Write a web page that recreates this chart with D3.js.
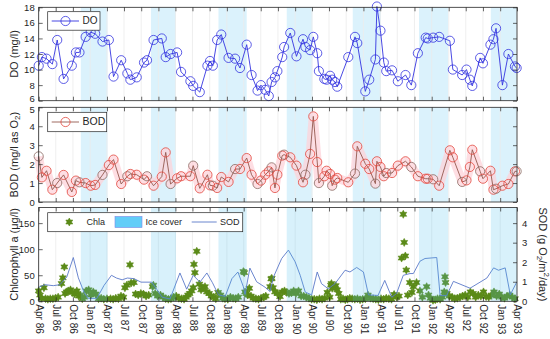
<!DOCTYPE html>
<html>
<head>
<meta charset="utf-8">
<script src="https://cdn.jsdelivr.net/npm/d3@7/dist/d3.min.js"></script>
<style>
body { margin: 0; background: #fff; }
text { font-family: "Liberation Sans", Arial, sans-serif; fill: #262626; }
</style>
</head>
<body>
<svg id="SVG_CONTAINER" width="550" height="339"></svg>
<script>
let d3 = window.d3;

// DO and BOD share sampling dates
const sampleDates = [
    "1986-04-01","1986-04-18","1986-05-13","1986-06-13","1986-07-09","1986-08-12","1986-09-25","1986-10-17","1986-11-05","1986-12-08",
    "1987-01-04","1987-01-28","1987-03-08","1987-04-11","1987-05-06","1987-06-16","1987-07-19","1987-08-04","1987-09-07","1987-10-16",
    "1987-11-01","1987-12-06","1988-01-19","1988-02-09","1988-03-06","1988-04-10","1988-05-01","1988-06-20","1988-07-05","1988-08-09",
    "1988-09-19","1988-10-03","1988-10-18","1988-11-10","1988-12-02","1989-01-10","1989-02-14","1989-03-12","1989-04-17","1989-05-13",
    "1989-06-14","1989-07-02","1989-07-25","1989-08-13","1989-08-28","1989-09-15","1989-09-28","1989-10-24","1989-11-03","1989-12-06",
    "1990-01-08","1990-02-12","1990-02-25","1990-03-22","1990-04-08","1990-04-29","1990-05-08","1990-06-06","1990-06-18","1990-07-07",
    "1990-07-18","1990-08-02","1990-08-14","1990-10-12","1990-11-17","1990-11-29","1991-01-11","1991-02-01","1991-03-06","1991-03-14",
    "1991-04-02","1991-04-20","1991-05-03","1991-06-03","1991-07-04","1991-08-14","1991-09-14","1991-10-19","1991-11-30","1991-12-11",
    "1992-01-09","1992-02-10","1992-04-07","1992-04-23","1992-06-12","1992-07-05","1992-07-23","1992-08-05","1992-09-16","1992-10-01",
    "1992-11-10","1992-11-26","1992-12-10","1993-01-13","1993-02-14","1993-03-21","1993-03-30"
];

const doValues = [
    10.5,11.6,11.4,10.7,13.8,8.8,10.5,12.2,12.2,14.2,
    14.8,14.6,13.6,13.8,9.1,11.2,9.5,8.7,9.0,10.9,
    11.2,13.8,14.0,11.6,12.0,12.2,9.7,8.5,7.9,7.1,
    10.5,11.1,10.5,13.8,14.5,11.5,11.4,10.2,13.2,9.3,
    7.3,8.0,7.4,6.6,8.4,9.0,9.8,11.6,12.9,14.7,
    11.7,13.9,12.9,12.5,14.2,12.1,9.8,8.8,8.7,9.2,
    8.7,8.4,7.8,11.6,14.2,13.4,7.2,8.7,11.3,18.1,
    15.0,10.9,9.8,9.9,8.5,9.3,8.0,12.1,14.1,14.0,
    14.1,14.2,13.7,10.0,9.3,10.0,8.7,7.9,11.5,10.8,
    13.2,13.9,15.3,8.0,12.0,10.4,10.2
];

const bodValues = [
    2.41,1.3,1.65,0.65,1.0,1.43,0.53,1.13,1.04,1.0,
    0.86,0.9,1.43,1.95,2.24,0.95,1.36,1.48,1.44,1.18,
    1.36,0.86,1.34,2.62,0.95,1.25,1.36,1.36,1.92,0.72,
    1.44,0.88,0.86,0.74,1.32,1.06,1.74,1.74,2.32,1.44,
    0.95,1.13,1.44,1.62,1.83,0.74,1.44,2.45,2.5,2.36,
    1.92,1.04,1.44,2.54,4.52,2.11,1.0,1.36,1.65,1.48,
    0.86,1.18,1.27,1.04,1.5,2.94,2.02,1.74,0.97,2.15,
    1.85,1.36,1.53,1.53,1.92,2.15,1.85,1.36,1.23,1.23,
    1.2,0.86,2.73,2.36,1.06,1.14,1.85,2.76,1.62,1.23,
    1.65,0.65,0.7,0.86,0.95,1.62,1.62
];

const sodDates = [
    "1986-04-01","1986-05-04","1986-06-18","1986-07-23","1986-08-29","1986-10-03","1986-10-30","1986-11-30","1986-12-22","1987-02-06",
    "1987-03-16","1987-04-25","1987-05-22","1987-06-21","1987-07-19","1987-08-23","1987-09-30","1987-11-26","1987-12-24","1988-01-21",
    "1988-03-03","1988-04-25","1988-05-31","1988-07-05","1988-08-10","1988-09-16","1988-10-16","1988-11-17","1988-12-23","1989-01-28",
    "1989-03-01","1989-03-30","1989-04-08","1989-05-04","1989-06-09","1989-07-24","1989-08-20","1989-09-07","1989-10-21","1989-11-26",
    "1990-01-01","1990-01-28","1990-02-24","1990-03-30","1990-04-29","1990-05-22","1990-06-27","1990-08-02","1990-09-25","1990-10-21",
    "1990-11-26","1991-01-01","1991-01-28","1991-03-20","1991-04-25","1991-06-01","1991-06-27","1991-08-02","1991-09-07","1991-09-25",
    "1991-10-30","1991-11-26","1992-01-02","1992-01-28","1992-02-15","1992-03-21","1992-04-26","1992-07-24","1992-10-22","1992-11-27",
    "1992-12-23","1993-01-28","1993-02-24","1993-03-30"
];

const sodValues = [
    0.72,0.85,0.8,0.85,1.24,2.24,1.2,0.45,0.15,0.15,
    0.81,1.33,1.19,1.1,1.19,1.16,0.98,0.98,0.6,0.21,
    0.12,1.45,0.62,1.33,0.98,1.45,0.95,0.33,0.25,1.16,
    1.5,0.75,0.35,1.7,1.0,0.72,0.5,1.24,2.19,2.62,
    2.02,1.33,0.47,0.33,1.5,0.9,0.64,0.9,1.59,1.5,
    1.73,1.5,0.33,0.3,1.07,0.21,0.4,1.33,1.42,1.42,
    2.05,2.19,2.22,2.24,0.29,0.29,1.02,0.67,1.19,1.71,
    1.59,1.71,0.33,0.98
];

const chlaDates = [
    "1986-04-01","1986-04-08","1986-04-15","1986-04-29","1986-05-08","1986-05-20","1986-06-02","1986-06-16","1986-06-30","1986-07-14",
    "1986-08-01","1986-08-08","1986-08-16","1986-08-20","1986-08-28","1986-09-08","1986-09-18","1986-09-29","1986-10-10","1986-10-22",
    "1986-11-01","1986-11-10","1986-11-20","1986-12-01","1986-12-12","1986-12-24","1987-01-05","1987-01-18","1987-02-01","1987-02-15",
    "1987-03-01","1987-03-15","1987-04-01","1987-04-20","1987-05-04","1987-05-18","1987-06-01","1987-06-15","1987-06-28","1987-07-06",
    "1987-07-16","1987-08-02","1987-08-08","1987-08-23","1987-09-01","1987-09-15","1987-09-29","1987-10-13","1987-10-27","1987-11-10",
    "1987-12-01","1987-12-05","1987-12-15","1987-12-28","1988-01-12","1988-01-26","1988-02-09","1988-02-23","1988-03-08","1988-03-22",
    "1988-04-05","1988-04-19","1988-05-03","1988-05-17","1988-05-28","1988-06-07","1988-06-16","1988-06-27","1988-07-05","1988-07-09",
    "1988-07-14","1988-07-24","1988-08-07","1988-08-16","1988-08-26","1988-09-06","1988-09-16","1988-09-28","1988-10-10","1988-10-22",
    "1988-11-03","1988-11-15","1988-11-28","1988-12-10","1988-12-22","1989-01-06","1989-01-20","1989-02-03","1989-02-17","1989-03-03",
    "1989-03-30","1989-04-04","1989-04-08","1989-04-14","1989-04-22","1989-05-01","1989-05-10","1989-05-22","1989-06-05","1989-06-19",
    "1989-07-03","1989-07-17","1989-07-28","1989-08-20","1989-08-26","1989-08-29","1989-09-05","1989-09-15","1989-09-28","1989-10-12",
    "1989-10-24","1989-11-05","1989-11-17","1989-11-29","1989-12-12","1989-12-24","1990-01-05","1990-01-19","1990-02-02","1990-02-16",
    "1990-03-02","1990-03-16","1990-03-30","1990-04-13","1990-04-27","1990-05-11","1990-05-25","1990-06-08","1990-06-22","1990-07-05",
    "1990-07-11","1990-07-14","1990-07-18","1990-08-06","1990-08-14","1990-08-22","1990-09-02","1990-09-14","1990-09-26","1990-10-08",
    "1990-10-20","1990-11-02","1990-11-16","1990-11-30","1990-12-14","1990-12-28","1991-01-11","1991-01-25","1991-02-08","1991-02-22",
    "1991-03-08","1991-03-22","1991-04-05","1991-04-19","1991-05-03","1991-05-17","1991-05-31","1991-06-14","1991-06-28","1991-07-10",
    "1991-07-24","1991-08-02","1991-08-07","1991-08-13","1991-08-18","1991-08-26","1991-09-06","1991-09-17","1991-09-25","1991-10-12",
    "1991-10-30","1991-11-12","1991-12-05","1991-12-15","1991-12-25","1992-01-08","1992-01-20","1992-02-01","1992-02-15","1992-02-28",
    "1992-03-08","1992-03-12","1992-03-15","1992-03-22","1992-04-05","1992-04-19","1992-05-03","1992-05-17","1992-05-31","1992-06-14",
    "1992-06-28","1992-07-12","1992-07-26","1992-08-09","1992-08-23","1992-09-06","1992-09-20","1992-10-04","1992-10-18","1992-11-01",
    "1992-11-15","1992-11-29","1992-12-13","1992-12-27","1993-01-10","1993-01-24","1993-02-07","1993-02-21","1993-03-07","1993-03-21"
];

const chlaValues = [
    20,12,6,26,5,4,5,5,6,8,
    34,45,66,15,18,20,22,17,14,20,
    10,12,5,8,20,22,12,18,14,5,
    6,4,5,5,4,6,5,10,8,26,
    31,70,35,36,14,12,15,14,10,12,
    28,31,15,10,12,8,5,4,5,8,
    10,6,5,4,8,12,15,20,26,71,
    55,96,33,22,26,28,18,15,10,8,
    5,17,12,6,5,4,8,6,5,8,
    57,55,18,15,12,25,10,6,5,4,
    6,8,10,28,43,44,26,18,15,9,
    18,20,17,15,16,20,15,20,10,10,
    8,6,4,4,3,5,4,6,17,8,
    31,34,25,30,22,15,4,5,3,4,
    6,5,4,5,3,4,5,12,6,5,
    4,3,5,4,6,5,4,13,8,10,
    83,167,113,87,60,12,36,17,28,36,
    20,8,28,12,6,2,3,5,4,8,
    18,47,36,15,10,8,5,6,8,10,
    12,8,18,15,8,12,10,18,9,8,
    12,18,10,14,8,6,10,12,8,5
];

const iceStart = ["1986-11-12","1987-11-22","1988-11-17","1989-11-17","1990-11-05","1991-10-25","1992-11-12"];
const iceEnd   = ["1987-04-04","1988-04-04","1989-04-17","1990-04-03","1991-04-04","1992-03-29","1993-04-01"];

const doTicks   = [6, 8, 10, 12, 14, 16, 18];
const bodTicks  = [0, 1, 2, 3, 4, 5];
const chlaTicks = [0, 50, 100, 150];
const sodTicks  = [0, 1, 2, 3, 4];

const width = 550, height = 339;
const X0 = 38.7, X1 = 517;
const P1 = [7.3, 100.7], P2 = [107.3, 202], P3 = [207.5, 301.3];

const COLORS = {
    DO: "#3434e0",
    BOD: "#e2473d",
    BODLINE: "#94594f",
    BODBAND: "#fdd3da",
    CHLA: "#5a8a18",
    SOD: "#5a78c8",
    ICE: "#4dbeee",
    AXIS: "#262626",
    GRID: "#ebebeb"
};

const parse = d3.timeParse("%Y-%m-%d");
const svg = d3.select("#SVG_CONTAINER");

const xScale = d3.scaleTime()
    .domain([parse("1986-04-01"), parse("1993-04-01")])
    .range([X0, X1]);
const quarterTicks = d3.timeMonth.range(parse("1986-04-01"), parse("1993-04-02"), 3);

const yDO = d3.scaleLinear().domain([6, 18]).range([P1[1], P1[0]]);
const yBOD = d3.scaleLinear().domain([0, 5]).range([P2[1], P2[0]]);
const yChla = d3.scaleLinear().domain([0, 180]).range([P3[1], P3[0]]);
const ySOD = d3.scaleLinear().domain([0, 4.8]).range([P3[1], P3[0]]);

const sample = sampleDates.map(function (d, i) {
    return { date: parse(d), DO: doValues[i], BOD: bodValues[i] };
});
const sod = sodDates.map((d, i) => ({ date: parse(d), v: sodValues[i] }));
const chla = chlaDates.map((d, i) => ({ date: parse(d), v: chlaValues[i] }));
const ice = iceStart.map((d, i) => ({ s: parse(d), e: parse(iceEnd[i]) }));

// six-pointed star marker like matlab 'h'
const hexagram = {
    draw: function (ctx, size) {
        let r = Math.sqrt(size), ri = r * 0.55;
        for (let i = 0; i < 12; i++) {
            let a = Math.PI / 6 * i - Math.PI / 2;
            let rr = (i % 2) ? ri : r;
            if (i === 0) ctx.moveTo(rr * Math.cos(a), rr * Math.sin(a));
            else ctx.lineTo(rr * Math.cos(a), rr * Math.sin(a));
        }
        ctx.closePath();
    }
};

function drawBands(g, p, opacity) {
    g.append("g").selectAll("rect")
        .data(ice)
        .enter()
        .append("rect")
            .attr("x", d => xScale(d.s))
            .attr("y", p[0])
            .attr("width", d => xScale(d.e) - xScale(d.s))
            .attr("height", p[1] - p[0])
            .attr("fill", COLORS.ICE)
            .attr("opacity", opacity);
}

function drawGrid(g, p) {
    g.append("g").selectAll("line")
        .data(quarterTicks)
        .enter()
        .append("line")
            .attr("x1", d => xScale(d)).attr("x2", d => xScale(d))
            .attr("y1", p[0]).attr("y2", p[1])
            .attr("stroke", COLORS.GRID)
            .attr("stroke-width", 0.8);
}

function drawFrame(g, p, yScale, ticks, rightScale, rightTicks) {
    // x ticks top and bottom (inward)
    g.append("g")
        .attr("transform", "translate(0," + p[1] + ")")
        .call(d3.axisBottom(xScale).tickValues(quarterTicks).tickSize(-4).tickFormat(""))
        .call(a => a.select(".domain").remove());
    g.append("g")
        .attr("transform", "translate(0," + p[0] + ")")
        .call(d3.axisTop(xScale).tickValues(quarterTicks).tickSize(-4).tickFormat(""))
        .call(a => a.select(".domain").remove());

    // left y axis
    g.append("g")
        .attr("class", "yleft")
        .attr("transform", "translate(" + X0 + ",0)")
        .call(d3.axisLeft(yScale).tickValues(ticks).tickSize(-4).tickPadding(4).tickFormat(d3.format("d")))
        .call(a => a.select(".domain").remove())
        .call(a => a.selectAll("text").style("font-size", "9.5px").attr("fill", COLORS.AXIS));

    // right y axis
    let right = g.append("g")
        .attr("transform", "translate(" + X1 + ",0)");
    if (rightScale) {
        right.call(d3.axisRight(rightScale).tickValues(rightTicks).tickSize(-4).tickPadding(5).tickFormat(d3.format("d")))
            .call(a => a.selectAll("text").style("font-size", "9.5px").attr("fill", COLORS.AXIS));
    } else {
        right.call(d3.axisRight(yScale).tickValues(ticks).tickSize(-4).tickFormat(""));
    }
    right.select(".domain").remove();

    g.selectAll(".tick line").attr("stroke", COLORS.AXIS).attr("stroke-width", 0.7);

    g.append("rect")
        .attr("x", X0).attr("y", p[0])
        .attr("width", X1 - X0).attr("height", p[1] - p[0])
        .attr("fill", "none")
        .attr("stroke", COLORS.AXIS)
        .attr("stroke-width", 0.8);
}

//---------- panel 1 : DO
let g1 = svg.append("g").attr("class", "do");
drawBands(g1, P1, 0.2);
drawGrid(g1, P1);

g1.append("path")
    .datum(sample)
    .attr("fill", "none")
    .attr("stroke", COLORS.DO)
    .attr("stroke-width", 0.9)
    .attr("d", d3.line().x(d => xScale(d.date)).y(d => yDO(d.DO)));

g1.selectAll("circle")
    .data(sample)
    .enter()
    .append("circle")
        .attr("cx", d => xScale(d.date))
        .attr("cy", d => yDO(d.DO))
        .attr("r", 4.6)
        .attr("fill", "none")
        .attr("stroke", COLORS.DO)
        .attr("stroke-width", 0.8);

drawFrame(g1, P1, yDO, doTicks);
// keep the bottom "6" clear of the "5" below
g1.selectAll(".yleft text").filter(d => d === 6).attr("dy", "0.1em");

//---------- panel 2 : BOD
let g2 = svg.append("g").attr("class", "bod");
drawBands(g2, P2, 0.2);
drawGrid(g2, P2);

g2.append("path")
    .datum(sample)
    .attr("fill", "none")
    .attr("stroke", COLORS.BODBAND)
    .attr("stroke-width", 9)
    .attr("stroke-linejoin", "round")
    .attr("opacity", 0.75)
    .attr("d", d3.line().x(d => xScale(d.date)).y(d => yBOD(d.BOD)));

g2.append("path")
    .datum(sample)
    .attr("fill", "none")
    .attr("stroke", COLORS.BODLINE)
    .attr("stroke-width", 0.9)
    .attr("d", d3.line().x(d => xScale(d.date)).y(d => yBOD(d.BOD)));

g2.selectAll("circle")
    .data(sample)
    .enter()
    .append("circle")
        .attr("cx", d => xScale(d.date))
        .attr("cy", d => yBOD(d.BOD))
        .attr("r", 4.6)
        .attr("fill", "none")
        .attr("stroke", (d, i) => (i % 4 === 0) ? "#8a6a62" : COLORS.BOD)
        .attr("stroke-width", 0.8);

drawFrame(g2, P2, yBOD, bodTicks);
g2.selectAll(".yleft text").filter(d => d === 5).attr("dy", "0.55em");

//---------- panel 3 : Chla, ice cover, SOD
let g3 = svg.append("g").attr("class", "chla");
drawGrid(g3, P3);

g3.append("g").selectAll("path")
    .data(chla)
    .enter()
    .append("path")
        .attr("transform", d => "translate(" + xScale(d.date) + "," + yChla(d.v) + ")")
        .attr("d", d3.symbol().type(hexagram).size(16))
        .attr("fill", COLORS.CHLA)
        .attr("stroke", COLORS.CHLA)
        .attr("stroke-width", 0.6);

g3.append("path")
    .datum(sod)
    .attr("fill", "none")
    .attr("stroke", COLORS.SOD)
    .attr("stroke-width", 0.9)
    .attr("d", d3.line().x(d => xScale(d.date)).y(d => ySOD(d.v)));

drawBands(g3, P3, 0.22);
drawFrame(g3, P3, yChla, chlaTicks, ySOD, sodTicks);

// x tick labels
svg.append("g").selectAll("text")
    .data(quarterTicks)
    .enter()
    .append("text")
        .attr("transform", d => "translate(" + xScale(d) + "," + (P3[1] + 3) + ")rotate(90)")
        .attr("dominant-baseline", "middle")
        .style("font-size", "10px")
        .text(d3.timeFormat("%b %y"));

//---------- axis labels
svg.append("text")
    .attr("transform", "translate(15," + ((P1[0] + P1[1]) / 2) + ")rotate(-90)")
    .attr("text-anchor", "middle")
    .attr("dominant-baseline", "middle")
    .style("font-size", "11px")
    .text("DO (mg/l)");

let bodLabel = svg.append("text")
    .attr("transform", "translate(15," + ((P2[0] + P2[1]) / 2) + ")rotate(-90)")
    .attr("text-anchor", "middle")
    .attr("dominant-baseline", "middle")
    .style("font-size", "11px");
bodLabel.append("tspan").text("BOD (mg/l as O");
bodLabel.append("tspan").attr("dy", 3).style("font-size", "8px").text("2");
bodLabel.append("tspan").attr("dy", -3).text(")");

svg.append("text")
    .attr("transform", "translate(15," + ((P3[0] + P3[1]) / 2) + ")rotate(-90)")
    .attr("text-anchor", "middle")
    .attr("dominant-baseline", "middle")
    .style("font-size", "11px")
    .text("Chlorophyll a (\u03bcg/l)");

let sodLabel = svg.append("text")
    .attr("transform", "translate(542," + ((P3[0] + P3[1]) / 2) + ")rotate(90)")
    .attr("text-anchor", "middle")
    .attr("dominant-baseline", "middle")
    .style("font-size", "11px");
sodLabel.append("tspan").text("SOD (g O");
sodLabel.append("tspan").attr("dy", 3).style("font-size", "8px").text("2");
sodLabel.append("tspan").attr("dy", -3).text("/m");
sodLabel.append("tspan").attr("dy", -4).style("font-size", "8px").text("2");
sodLabel.append("tspan").attr("dy", 4).text("/day)");

//---------- legends
function legendBox(x, y, w, h) {
    return svg.append("rect")
        .attr("x", x).attr("y", y)
        .attr("width", w).attr("height", h)
        .attr("fill", "#fff")
        .attr("stroke", COLORS.AXIS)
        .attr("stroke-width", 0.7);
}

// DO legend
legendBox(47.7, 11.7, 52.3, 18.5);
svg.append("line").attr("x1", 51.7).attr("x2", 79).attr("y1", 21).attr("y2", 21)
    .attr("stroke", COLORS.DO).attr("stroke-width", 0.9);
svg.append("circle").attr("cx", 65.5).attr("cy", 21).attr("r", 4.6)
    .attr("fill", "none").attr("stroke", COLORS.DO).attr("stroke-width", 0.8);
svg.append("text").attr("x", 82.5).attr("y", 21.3).attr("dominant-baseline", "middle")
    .style("font-size", "10px").text("DO");

// BOD legend
legendBox(47.7, 112.3, 59, 19.4);
svg.append("line").attr("x1", 51.7).attr("x2", 79).attr("y1", 122).attr("y2", 122)
    .attr("stroke", COLORS.BODLINE).attr("stroke-width", 0.9);
svg.append("circle").attr("cx", 65.5).attr("cy", 122).attr("r", 4.6)
    .attr("fill", "none").attr("stroke", COLORS.BOD).attr("stroke-width", 0.8);
svg.append("text").attr("x", 82.5).attr("y", 122.3).attr("dominant-baseline", "middle")
    .style("font-size", "10.5px").text("BOD");

// Chla / Ice cover / SOD legend
legendBox(47.7, 212.7, 195, 19);
svg.append("path")
    .attr("transform", "translate(69.3,222)")
    .attr("d", d3.symbol().type(hexagram).size(16))
    .attr("fill", COLORS.CHLA).attr("stroke", COLORS.CHLA).attr("stroke-width", 0.6);
svg.append("text").attr("x", 86.5).attr("y", 222.3).attr("dominant-baseline", "middle")
    .style("font-size", "9px").text("Chla");
svg.append("rect").attr("x", 115).attr("y", 216.5).attr("width", 27).attr("height", 11)
    .attr("fill", "#62cdf8").attr("stroke", "#7c88e6").attr("stroke-width", 0.6);
svg.append("text").attr("x", 145.5).attr("y", 222.3).attr("dominant-baseline", "middle")
    .style("font-size", "9px").text("Ice cover");
svg.append("line").attr("x1", 191.7).attr("x2", 216.7).attr("y1", 222).attr("y2", 222)
    .attr("stroke", COLORS.SOD).attr("stroke-width", 0.9);
svg.append("text").attr("x", 220).attr("y", 222.3).attr("dominant-baseline", "middle")
    .style("font-size", "9px").text("SOD");
</script>
</body>
</html>
